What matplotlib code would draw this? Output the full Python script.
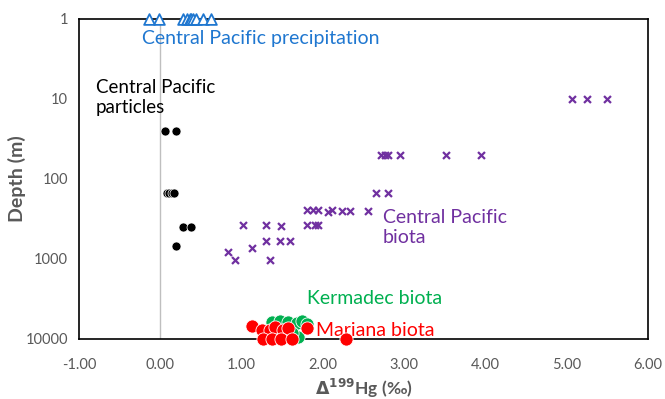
import numpy as np
import matplotlib
matplotlib.use("Agg")
import matplotlib.pyplot as plt
from matplotlib.ticker import FixedLocator, FixedFormatter

plt.rcParams['font.family'] = ['Lato', 'DejaVu Sans']

# Central Pacific precipitation (depth ~1 m)
precip_x = [-0.14, -0.01, 0.28, 0.33, 0.36, 0.38, 0.40, 0.44, 0.52, 0.62]
precip_d = [1, 1, 1, 1, 1, 1, 1, 1, 1, 1]

# Central Pacific particles
part_x = [0.06, 0.19, 0.08, 0.11, 0.14, 0.17, 0.28, 0.38, 0.19]
part_d = [25, 25, 150, 150, 150, 150, 400, 400, 690]

# Central Pacific biota
biota_x = [5.06, 5.25, 5.49,
           2.71, 2.76, 2.80, 2.95, 3.52, 3.94,
           2.66, 2.80,
           1.80, 1.88, 1.94, 2.06, 2.11, 2.23, 2.33, 2.55,
           1.80, 1.90, 1.94,
           1.02, 1.30, 1.49,
           1.30, 1.47, 1.59,
           1.13, 0.83, 0.92, 1.35]
biota_d = [10, 10, 10,
           50, 50, 50, 50, 50, 50,
           150, 150,
           245, 245, 245, 260, 245, 250, 250, 250,
           376, 376, 376,
           380, 380, 390,
           596, 596, 596,
           730, 820, 1030, 1030]

# Kermadec biota
kerm_x = [1.38, 1.47, 1.57, 1.68, 1.74, 1.80, 1.70, 1.62]
kerm_d = [6200, 6000, 6100, 6300, 6000, 6500, 9500, 8500]

# Mariana biota
mar_x = [1.13, 1.25, 1.35, 1.41, 1.51, 1.57, 1.80, 1.26, 1.38, 1.49, 1.62, 2.29]
mar_d = [6900, 7700, 7700, 7100, 7700, 7300, 7300, 10000, 10000, 10000, 10000, 10000]

x_ticks = [-1, 0, 1, 2, 3, 4, 5, 6]
y_ticks = [1, 10, 100, 1000, 10000]
y_labels = ["1", "10", "100", "1000", "10000"]

blue = "#1F77D0"
purple = "#7030A0"
green = "#00B050"
red = "#FF0000"
grey = "#595959"

fig = plt.figure(figsize=(6.65, 3.99), dpi=100)
ax = fig.add_axes([0.1188, 0.1504, 0.8556, 0.802])

ax.axvline(0, color="#BFBFBF", lw=1, zorder=1)

ax.scatter(precip_x, precip_d, marker="^", s=60, facecolors="white",
           edgecolors=blue, linewidths=1.3, zorder=3, clip_on=False)
ax.scatter(part_x, part_d, marker="o", s=42, facecolors="black",
           edgecolors="white", linewidths=0.5, zorder=3)
ax.scatter(biota_x, biota_d, marker="x", s=25, color=purple,
           linewidths=1.6, zorder=3)
ax.scatter(kerm_x, kerm_d, marker="o", s=90, facecolors=green,
           edgecolors="white", linewidths=0.6, zorder=3, clip_on=False)
ax.scatter(mar_x, mar_d, marker="o", s=90, facecolors=red,
           edgecolors="white", linewidths=0.6, zorder=4, clip_on=False)

ax.set_yscale("log")
ax.set_ylim(10000, 1)
ax.set_xlim(-1, 6)
ax.yaxis.set_major_locator(FixedLocator(y_ticks))
ax.yaxis.set_major_formatter(FixedFormatter(y_labels))
ax.yaxis.set_minor_locator(FixedLocator([]))
ax.set_xticks(x_ticks)
ax.set_xticklabels([f"{v:.2f}" for v in x_ticks])
ax.tick_params(axis="both", length=0, colors=grey, labelsize=10.5)
ax.tick_params(axis="x", pad=14)
ax.tick_params(axis="y", pad=8)

for s in ax.spines.values():
    s.set_color("black")
    s.set_linewidth(1.2)

ax.set_xlabel(r"$\mathbf{\Delta}^{\mathbf{199}}$Hg (‰)", fontsize=12.5,
              fontweight="bold", color=grey, labelpad=3)
ax.set_ylabel("Depth (m)", fontsize=14, fontweight="bold", color=grey)
ax.yaxis.set_label_coords(-0.109, 0.5)
ax.yaxis.label.set_va("center")

ax.text(-0.23, 1.75, "Central Pacific precipitation", color=blue, fontsize=14,
        va="center")
ax.text(-0.79, 9.5, "Central Pacific\nparticles", color="black", fontsize=13.5,
        va="center", linespacing=1.2)
ax.text(2.74, 400, "Central Pacific\nbiota", color=purple, fontsize=14,
        va="center", linespacing=1.2)
ax.text(1.81, 3100, "Kermadec biota", color=green, fontsize=14, va="center")
ax.text(1.91, 7800, "Mariana biota", color=red, fontsize=14, va="center")

fig.savefig("out.png", dpi=100)
